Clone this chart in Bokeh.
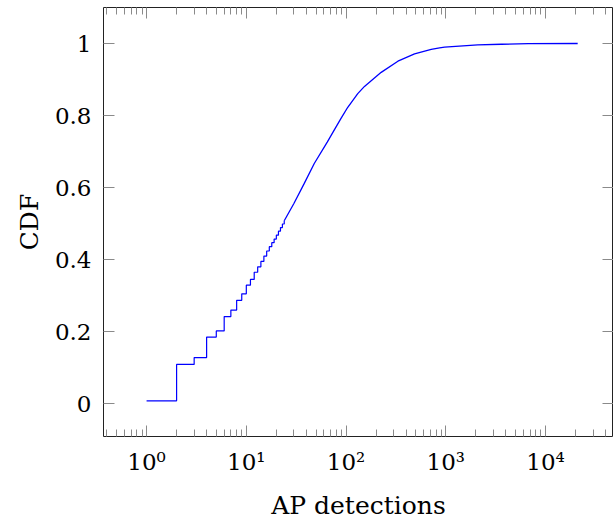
from bokeh.plotting import figure
from bokeh.models import FixedTicker, LinearAxis, LogAxis, CustomJSTickFormatter, Range1d
from bokeh.embed import file_html
from bokeh.resources import INLINE

# Step part of the empirical CDF (integer detection counts)
step_x = [1, 2, 3, 4, 5, 6, 7, 8, 9, 10, 11, 12, 13, 14, 15, 16, 17, 18, 19, 20, 21, 22, 23, 24]
step_y = [0.008, 0.109, 0.128, 0.185, 0.202, 0.242, 0.260, 0.287, 0.305, 0.329, 0.345, 0.365,
          0.380, 0.395, 0.410, 0.424, 0.436, 0.447, 0.457, 0.468, 0.479, 0.489, 0.499, 0.508]
# Dense (visually smooth) part
curve_x = [24, 30, 38, 48, 65, 74, 89, 104, 131, 153, 225, 331, 486, 714, 866, 972, 2090, 3600, 6700, 21000]
curve_y = [0.508, 0.556, 0.611, 0.667, 0.727, 0.754, 0.792, 0.823, 0.861, 0.881, 0.920, 0.951,
           0.971, 0.984, 0.988, 0.990, 0.996, 0.998, 0.9995, 1.0]

x_ticks = [1, 10, 100, 1000, 10000]
x_tick_labels = ["10\u2070", "10\u00b9", "10\u00b2", "10\u00b3", "10\u2074"]
y_ticks = [0, 0.2, 0.4, 0.6, 0.8, 1]

FONT = "DejaVu Serif"
TICK_COLOR = "#8a8a8a"

p = figure(width=613, height=522, x_axis_type="log",
           x_range=Range1d(0.37, 48000), y_range=Range1d(-0.091, 1.1),
           output_backend="svg", toolbar_location=None,
           x_axis_location=None, y_axis_location=None,
           min_border_left=103, min_border_right=0, min_border_top=7, min_border_bottom=85)
p.grid.visible = False
p.outline_line_color = "#222222"
p.outline_line_width = 1
p.background_fill_color = "white"
p.border_fill_color = "white"

minor = []
for k in range(-1, 5):
    for m in range(2, 10):
        minor.append(m * 10 ** k)
xticker = FixedTicker(ticks=x_ticks, minor_ticks=minor)
yticker = FixedTicker(ticks=y_ticks)

label_map = ", ".join(f'{t}: "{l}"' for t, l in zip(x_ticks, x_tick_labels))
label_js = "const labels = {" + label_map + "};\nconst k = Math.round(tick);\nreturn (k in labels) ? labels[k] : \"\";"

def style(ax, labels=True):
    ax.major_tick_in = 11
    ax.major_tick_out = 0
    ax.minor_tick_in = 7
    ax.minor_tick_out = 0
    ax.major_tick_line_color = TICK_COLOR
    ax.minor_tick_line_color = TICK_COLOR
    ax.axis_line_color = None
    ax.major_label_text_font = FONT
    ax.major_label_text_font_size = "23px"
    ax.major_label_text_color = "black"
    ax.axis_label_text_font = FONT
    ax.axis_label_text_font_size = "25px"
    ax.axis_label_text_font_style = "normal"
    ax.axis_label_text_color = "black"
    if not labels:
        ax.major_label_text_font_size = "1px"
        ax.major_label_text_alpha = 0
        ax.major_label_standoff = 0

bottom = LogAxis(ticker=xticker, axis_label="AP detections")
bottom.formatter = CustomJSTickFormatter(code=label_js)
style(bottom)
bottom.major_label_standoff = 12
bottom.axis_label_standoff = 13
p.add_layout(bottom, "below")

top = LogAxis(ticker=xticker)
style(top, labels=False)
p.add_layout(top, "above")

left = LinearAxis(ticker=yticker, axis_label="CDF")
left.formatter = CustomJSTickFormatter(code="return (Math.round(tick*10)/10).toString();")
style(left)
left.minor_tick_in = 0
left.major_label_standoff = 12
left.axis_label_standoff = 8
p.add_layout(left, "left")

right = LinearAxis(ticker=yticker)
style(right, labels=False)
right.minor_tick_in = 0
p.add_layout(right, "right")

p.step(step_x + [curve_x[0]], step_y + [step_y[-1]], mode="after", line_color="#0000ff", line_width=1.2)
p.line(curve_x, curve_y, line_color="#0000ff", line_width=1.3)

open("out.html", "w").write(file_html(p, INLINE))
